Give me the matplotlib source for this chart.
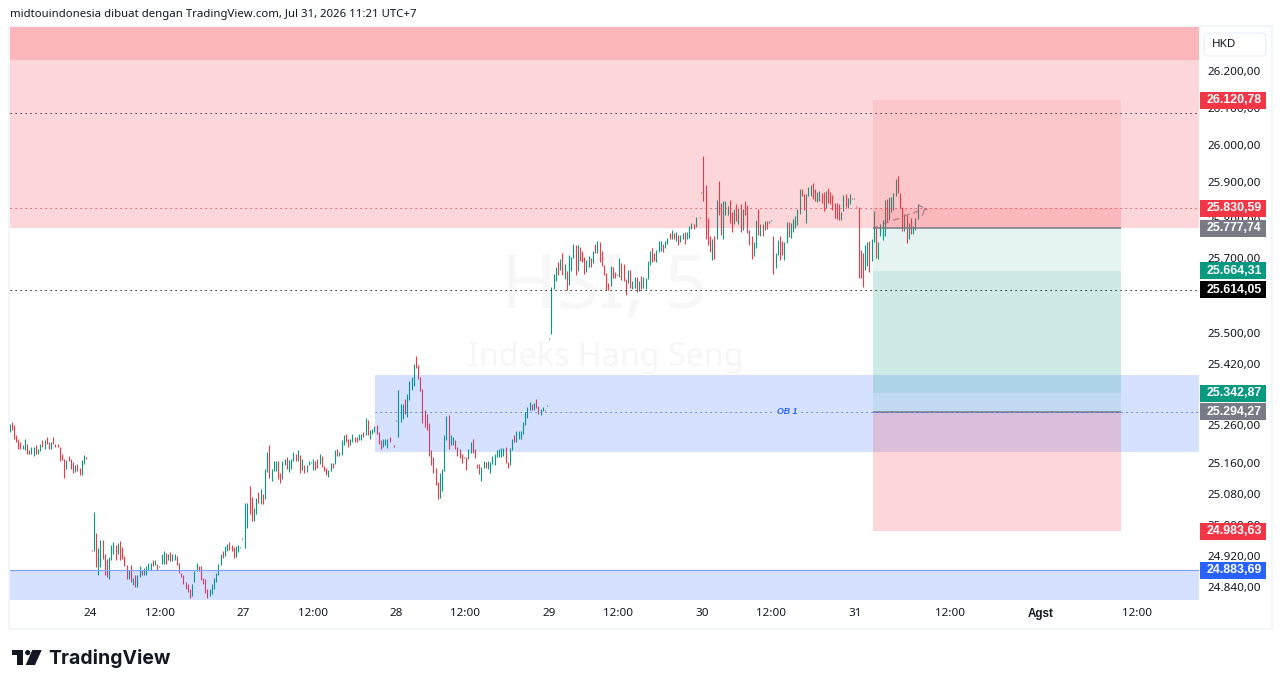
import numpy as np
import matplotlib
matplotlib.use("Agg")
from matplotlib import pyplot as plt
from matplotlib.patches import Rectangle, FancyBboxPatch, Polygon, Circle
from matplotlib.ticker import NullLocator, NullFormatter

# candles, one block per session: high, low, direction (u/d)
highs_pre = [25263,25268,25258,25234,25224,25214,25206,25222,25209,25193,25201,25203,25206,25198,25211,25219,25219,25227,25214,25214,25227,25211,25211,25203,25183,25170,25167,25178,25170,25162,25154,25159,25147,25167,25180,25175,25211]
lows_pre = [25242,25245,25224,25214,25197,25196,25196,25193,25185,25183,25183,25178,25185,25183,25191,25201,25196,25211,25196,25196,25209,25201,25201,25165,25167,25121,25144,25165,25144,25134,25136,25139,25128,25128,25159,25172,25209]
dirs_pre = "uddddduudd" "uuduududdu" "dddddduddd" "udduudu"

highs_24 = [24935,25033,24978,24940,24960,24960,24924,24911,24916,24947,24955,24947,24953,24958,24942,24919,24896,24883,24896,24862,24870,24870,24893,24885,24888,24893,24901,24901,24909,24909,24898,24893,24924,24932,24927,24924,24929,24924,24924,24919,24903,24877,24870,24852,24849,24834,24847,24880,24901,24893,24893,24862,24860,24834,24836,24849,24862,24875,24898,24924,24932,24945,24950,24955,24947,24942,24945,24947,24942,24966,24994]
lows_24 = [24932,24932,24891,24872,24891,24911,24872,24867,24860,24909,24924,24909,24924,24909,24911,24893,24860,24860,24852,24844,24841,24841,24865,24872,24870,24872,24885,24885,24893,24896,24885,24891,24898,24898,24898,24909,24906,24906,24909,24896,24875,24867,24849,24834,24828,24813,24816,24854,24880,24880,24857,24847,24826,24813,24816,24823,24834,24852,24870,24896,24914,24919,24932,24935,24932,24914,24916,24929,24940,24963,24991]
dirs_24 = "duduuddduu" "ududdddudu" "duuduuuudu" "duuududuud" "dddddduuud" "dddduuuuuu" "duuddduuuu" "u"

highs_27 = [25056,25056,25100,25072,25043,25069,25084,25092,25079,25144,25188,25206,25144,25165,25165,25165,25134,25165,25170,25175,25167,25170,25188,25185,25193,25182,25172,25156,25156,25166,25164,25172,25166,25172,25185,25179,25153,25148,25143,25161,25161,25193,25198,25190,25219,25232,25235,25222,25224,25235,25227,25227,25237,25237,25240,25277,25272,25245,25250,25256,25258,25240,25219,25224,25224,25224,25229,25216,25206]
lows_27 = [24940,24991,25028,25009,25009,25028,25056,25053,25053,25066,25136,25121,25113,25139,25139,25118,25108,25118,25154,25144,25136,25144,25165,25165,25165,25135,25143,25135,25137,25156,25161,25143,25143,25148,25158,25150,25140,25129,25124,25140,25148,25158,25179,25179,25182,25206,25214,25203,25206,25214,25216,25214,25219,25219,25229,25232,25232,25224,25235,25240,25237,25211,25198,25203,25206,25200,25214,25214,25203]
dirs_27 = "uudduududu" "uduuudduud" "uuudududuu" "uuddudddUU" "duduuudduu" "dduududuuu" "ddduuuddd"

highs_28 = [25272,25350,25314,25314,25327,25340,25374,25385,25419,25440,25416,25385,25353,25298,25287,25264,25195,25177,25148,25111,25135,25145,25232,25282,25285,25232,25229,25219,25203,25198,25185,25177,25177,25198,25214,25224,25198,25158,25158,25150,25166,25164,25166,25164,25179,25185,25193,25198,25200,25200,25203,25164,25200,25222,25232,25243,25243,25243,25266,25293,25306,25319,25314,25316,25327,25308,25300,25306,25298,25311]
lows_28 = [25269,25229,25266,25274,25287,25279,25324,25350,25361,25408,25379,25348,25264,25253,25245,25179,25156,25135,25103,25066,25069,25087,25140,25219,25198,25208,25208,25198,25179,25174,25161,25174,25143,25172,25187,25187,25174,25148,25132,25114,25148,25148,25145,25135,25158,25156,25177,25177,25177,25179,25161,25148,25156,25195,25214,25216,25222,25224,25237,25258,25277,25298,25298,25298,25303,25287,25285,25295,25295,25308]
dirs_28 = "uuuuduuuud" "dddddddddd" "uuuuduuddd" "ddduuddddu" "uduuuuuuuu" "dduuduuuuu" "uududduudu"

highs_29 = [25487,25622,25657,25676,25689,25697,25713,25684,25665,25708,25702,25737,25732,25734,25729,25718,25702,25694,25705,25700,25718,25737,25745,25740,25718,25681,25660,25633,25678,25676,25662,25657,25700,25686,25684,25644,25668,25668,25638,25649,25649,25638,25652,25649,25646,25692,25718,25726,25713,25721,25745,25745,25737,25745,25753,25766,25772,25766,25769,25761,25761,25766,25769,25769,25785,25793,25790,25809,25798,25809]
lows_29 = [25484,25497,25617,25638,25654,25668,25654,25644,25614,25628,25665,25700,25654,25665,25692,25689,25657,25662,25676,25676,25686,25713,25713,25689,25678,25654,25614,25614,25625,25646,25646,25654,25649,25641,25638,25601,25633,25620,25617,25620,25609,25612,25617,25620,25617,25644,25681,25689,25692,25689,25716,25718,25716,25724,25737,25748,25748,25750,25745,25734,25740,25750,25737,25750,25753,25777,25777,25782,25796,25806]
dirs_29 = "uuuudududu" "uududdduud" "ududddddud" "dduddduduu" "duduuuuddu" "uuduududud" "uuduuuduuu"

highs_30 = [25875,25971,25894,25806,25756,25750,25758,25854,25905,25846,25851,25851,25838,25854,25822,25830,25843,25833,25843,25830,25851,25841,25772,25756,25740,25801,25830,25788,25788,25796,25798,25796,25801,25758,25712,25747,25758,25744,25742,25795,25795,25792,25803,25811,25829,25883,25883,25869,25869,25888,25893,25899,25883,25875,25877,25872,25875,25877,25885,25875,25867,25845,25845,25843,25821,25867,25869,25859,25869,25859,25859]
lows_30 = [25873,25851,25750,25734,25716,25694,25697,25748,25814,25761,25750,25814,25814,25793,25769,25788,25796,25788,25769,25772,25814,25766,25732,25697,25705,25724,25761,25758,25758,25772,25777,25793,25798,25656,25672,25707,25694,25707,25694,25739,25755,25752,25768,25779,25787,25816,25864,25827,25792,25864,25864,25856,25851,25848,25851,25845,25824,25832,25845,25843,25827,25805,25803,25800,25800,25824,25835,25832,25843,25856,25856]
dirs_30 = "uddddududd" "uuuddududu" "dddduududu" "duuduudduu" "duuuuudduu" "udduuddudd" "dddduuduud" "u"

highs_31 = [25837,25835,25720,25712,25734,25742,25744,25750,25824,25779,25742,25790,25800,25853,25856,25861,25861,25872,25909,25917,25872,25835,25816,25813,25792,25805,25784,25805,25843]
lows_31 = [25835,25647,25646,25622,25667,25678,25662,25691,25742,25699,25696,25758,25747,25758,25795,25800,25821,25827,25864,25872,25832,25771,25771,25739,25750,25763,25763,25773,25803]
dirs_31 = "dddduuduud" "uuuuduuuud" "ddududuuu"

# first bar of each session, counted in bars from the open of the 24th
session_starts = [-37, 0.5, 70.8, 139.8, 209.8, 279.3, 350.2]

# grey dashes of the projected bars drawing on the 31st
proj_x = [358.2, 359.7, np.nan, 363.2, 364.7, np.nan, 367.3, 369.5, np.nan, 372.2, 374.3, np.nan, 376.6, 378.6, np.nan, 378.9, 380.5, np.nan, 380.5, 381.6, 382.4]
proj_y = [25778, 25782, np.nan, 25791, 25794, np.nan, 25800, 25803, np.nan, 25811, 25815, np.nan, 25819, 25824, np.nan, 25839, 25834, np.nan, 25813, 25831, 25828]

# price levels
y_ticks = [26200, 26100, 26000, 25900, 25800, 25700, 25500, 25420, 25260, 25160, 25080, 25000, 24920, 24840]
x_tick_pos = [-0.2, 31.8, 69.7, 101.7, 139.7, 171.2, 209.7, 241.2, 279.7, 311.2, 349.6, 393, 434.6, 478.5]
x_tick_labels = ["24", "12:00", "27", "12:00", "28", "12:00", "29", "12:00", "30", "12:00", "31", "12:00", "Agst", "12:00"]

price_min, price_max = 24806.8, 26319.3
red_zone_deep = 26230
red_zone_bottom = 25777.74
ob_top, ob_bottom = 25390, 25189
blue_zone_top = 24883.69
level_top = 26087
level_red = 25830.59
level_black = 25614.05
level_ob = 25294.27

badge_prices = [26120.78, 25830.59, 25777.74, 25664.31, 25614.05, 25342.87, 25294.27, 24983.63, 24883.69]
badge_colors = ["#f23645", "#f23645", "#787b86", "#089981", "#000000", "#089981", "#787b86", "#f23645", "#2962ff"]

UP = "#089981"
DOWN = "#f23645"
BLUE = "#2962ff"
W, H = 1281, 688


def fmt_price(v):
    return "{:,.2f}".format(v).replace(",", "#").replace(".", ",").replace("#", ".")


plt.rcParams["font.family"] = ["Noto Sans", "DejaVu Sans"]

fig = plt.figure(figsize=(W / 100, H / 100), dpi=100, facecolor="white")
ax = fig.add_axes([10 / W, (H - 600) / H, 1189 / W, 573 / H])
ax.set_yscale("log")
ax.set_xlim(-36.8, 506.9)
ax.set_ylim(price_min, price_max)
for s in ax.spines.values():
    s.set_visible(False)

# watermark
ax.text(234.8, 25619, "HSI, 5", fontsize=54.5, color="#f7f7f7", ha="center", va="center", zorder=0)
ax.text(235.5, 25437, "Indeks Hang Seng", fontsize=23.2, color="#f6f6f6", ha="center", va="center", zorder=0)

# candles
sessions = [
    (highs_pre, lows_pre, dirs_pre),
    (highs_24, lows_24, dirs_24),
    (highs_27, lows_27, dirs_27),
    (highs_28, lows_28, dirs_28),
    (highs_29, lows_29, dirs_29),
    (highs_30, lows_30, dirs_30),
    (highs_31, lows_31, dirs_31),
]
for start, (hi, lo, dr) in zip(session_starts, sessions):
    assert len(hi) == len(lo) == len(dr)
    xs = start + np.arange(len(hi))
    cols = [UP if d in "uU" else DOWN for d in dr]
    ax.vlines(xs, lo, hi, colors=cols, linewidth=0.8, zorder=2)

ax.plot(proj_x, proj_y, color="#787b86", lw=1, alpha=0.7, zorder=3)

# zones, laid over the candles
ax.axhspan(red_zone_bottom, price_max, color=DOWN, alpha=0.2, lw=0, zorder=4)
ax.axhspan(red_zone_deep, price_max, color=DOWN, alpha=0.2, lw=0, zorder=4)
ax.fill_between([130, 506.9], ob_bottom, ob_top, color=BLUE, alpha=0.19, lw=0, zorder=4)
ax.axhspan(price_min, blue_zone_top, color=BLUE, alpha=0.19, lw=0, zorder=4)
ax.axhline(blue_zone_top, color="#7fa5f8", lw=0.85, zorder=5)

# the position boxes
box_l, box_r = 357.7, 471.1
ax.fill_between([box_l, box_r], red_zone_bottom, 26120.78, color=DOWN, alpha=0.09, lw=0, zorder=4)
ax.fill_between([box_l, box_r], red_zone_bottom, 25830.59, color=DOWN, alpha=0.1, lw=0, zorder=4)
ax.fill_between([box_l, box_r], 25342.87, red_zone_bottom, color=UP, alpha=0.1, lw=0, zorder=4)
ax.fill_between([box_l, box_r], level_ob, 25664.31, color=UP, alpha=0.1, lw=0, zorder=4)
ax.fill_between([box_l, box_r], 24983.63, level_ob, color=DOWN, alpha=0.2, lw=0, zorder=4)
ax.hlines([red_zone_bottom, level_ob], box_l, box_r, color="#787b86", lw=1.1, zorder=5)

# dotted levels
dots = (0, (1.2, 3.8))
ax.axhline(level_top, color="#131722", lw=0.72, ls=dots, zorder=5)
ax.axhline(level_black, color="#000000", lw=0.72, ls=dots, zorder=5)
ax.axhline(level_red, color=DOWN, lw=0.72, ls=dots, zorder=5)
ax.hlines(level_ob, 130, 312, color=BLUE, lw=0.72, ls=dots, zorder=5)
ax.hlines(level_ob, 325, 506.9, color=BLUE, lw=0.72, ls=dots, zorder=5)
ax.text(318.5, level_ob, "OB 1", color=BLUE, fontsize=6.3, style="italic", weight="bold",
        family=["Liberation Sans", "DejaVu Sans"], ha="center", va="center", zorder=6)

# axes
ax.minorticks_off()
ax.yaxis.set_minor_locator(NullLocator())
ax.yaxis.set_minor_formatter(NullFormatter())
ax.yaxis.tick_right()
ax.set_yticks(y_ticks)
ax.set_yticklabels([fmt_price(v) for v in y_ticks])
ax.tick_params(axis="y", length=0, pad=6, labelsize=8.4, labelcolor="#131722")
ax.set_xticks(x_tick_pos)
ax.set_xticklabels(x_tick_labels)
ax.tick_params(axis="x", length=0, pad=6, labelsize=8.4, labelcolor="#131722")
for lab in ax.get_xticklabels():
    if lab.get_text() == "Agst":
        lab.set_fontweight("bold")
        lab.set_family(["Liberation Sans", "DejaVu Sans"])

# page furniture in pixel coordinates
top = fig.add_axes([0, 0, 1, 1], zorder=10)
top.set_xlim(0, W)
top.set_ylim(H, 0)
top.axis("off")

top.add_patch(Rectangle((9, 26), 1263, 603, fill=False, edgecolor="#f0f3fa", lw=1.2))
top.text(10, 15, "midtouindonesia dibuat dengan TradingView.com, Jul 31, 2026 11:21 UTC+7",
         fontsize=8.2, color="#131722", va="center", ha="left")

# price badges sit on the real scale
fig.canvas.draw()
for price, col in zip(badge_prices, badge_colors):
    yy = H - ax.transData.transform((0, price))[1]
    top.add_patch(Rectangle((1200, yy - 8.5), 66, 17, facecolor=col, edgecolor="none"))
    top.text(1234, yy, fmt_price(price), color="white", fontsize=8.9, weight="bold",
             family=["Liberation Sans", "DejaVu Sans"], ha="center", va="center")

top.add_patch(FancyBboxPatch((1204, 33), 62, 23, boxstyle="round,pad=0,rounding_size=4",
                             facecolor="white", edgecolor="#f0f3fa", lw=1.2))
top.text(1212, 44.5, "HKD", fontsize=8.4, color="#131722", va="center", ha="left")

# TradingView logo
LOGO = "#131722"
top.add_patch(Polygon([(12.3, 650), (22.7, 650), (22.7, 665), (16.7, 665), (16.7, 655), (12.3, 655)], color=LOGO, lw=0))
top.add_patch(Circle((27.7, 652.6), 2.6, color=LOGO, lw=0))
top.add_patch(Polygon([(32.3, 650), (41.7, 650), (35, 665), (25.7, 665)], color=LOGO, lw=0))
top.text(48, 658, "TradingView", fontsize=14, weight="bold", color=LOGO, family=["Inter", "DejaVu Sans"],
         va="center", ha="left")

fig.savefig("out.png", dpi=100)
